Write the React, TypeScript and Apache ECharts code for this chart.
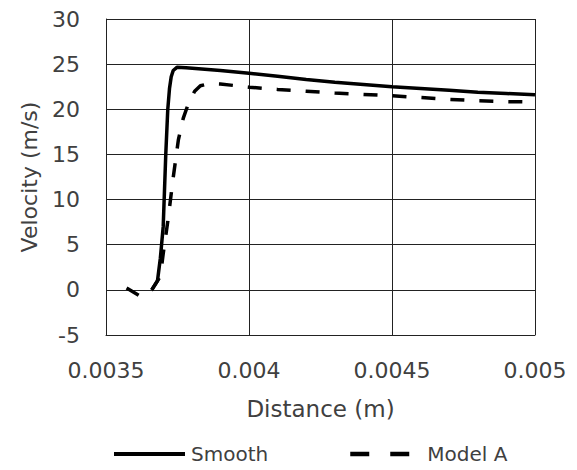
import React, { useEffect, useRef } from "react";
import * as echarts from "echarts";

const smoothX = [0.00366, 0.00368, 0.00369, 0.0037, 0.003709, 0.003716, 0.003722, 0.003728, 0.003735, 0.003748, 0.00378, 0.0039, 0.004, 0.0041, 0.0042, 0.0043, 0.0044, 0.0045, 0.0046, 0.0047, 0.0048, 0.0049, 0.005];
const smoothV = [0, 1, 3.5, 7, 15, 20, 22.3, 23.6, 24.3, 24.65, 24.6, 24.3, 24.0, 23.65, 23.3, 23.0, 22.75, 22.5, 22.3, 22.1, 21.9, 21.75, 21.6];

const modelX = [0.003572, 0.00362, 0.00366, 0.00369, 0.0037, 0.003717, 0.003734, 0.003753, 0.00377, 0.00379, 0.00381, 0.00383, 0.00386, 0.0039, 0.004, 0.0041, 0.0042, 0.0043, 0.0044, 0.0045, 0.0046, 0.0047, 0.0048, 0.0049, 0.005];
const modelV = [0.2, -0.7, 0, 1.5, 4, 7.8, 12.2, 16.6, 19, 20.8, 22.0, 22.6, 22.85, 22.8, 22.45, 22.2, 22.0, 21.8, 21.65, 21.5, 21.3, 21.1, 20.95, 20.85, 20.8];

const seriesNames = ["Smooth", "Model A"];
const xAxisName = "Distance (m)";
const yAxisName = "Velocity (m/s)";

const FONT = "DejaVu Sans";
const TEXT = "#404040";

export default function App() {
  const ref = useRef<HTMLDivElement>(null);
  useEffect(() => {
    if (!ref.current) return;
    const chart = echarts.init(ref.current, null, { renderer: "svg" });
    const pair = (xs: number[], vs: number[]) => xs.map((x, i) => [x, vs[i]]);
    const hiddenSymbol = { color: "rgba(0,0,0,0)", borderWidth: 0, opacity: 0 };
    chart.setOption({
      animation: false,
      backgroundColor: "#fff",
      grid: { left: 106, right: 42, top: 19, bottom: 135 },
      xAxis: {
        type: "value",
        min: 0.0035,
        max: 0.005,
        interval: 0.0005,
        name: xAxisName,
        nameLocation: "middle",
        nameGap: 62,
        nameTextStyle: { fontFamily: FONT, fontSize: 23, color: TEXT },
        axisLine: { show: true, onZero: false, lineStyle: { color: "#222", width: 1 } },
        axisTick: { show: false },
        axisLabel: {
          fontFamily: FONT,
          fontSize: 22,
          color: TEXT,
          margin: 24,
          formatter: (v: number) => String(parseFloat(v.toFixed(4))),
        },
        splitLine: { show: true, lineStyle: { color: "#222", width: 1 } },
      },
      yAxis: {
        type: "value",
        min: -5,
        max: 30,
        interval: 5,
        name: yAxisName,
        nameLocation: "middle",
        nameGap: 66,
        nameTextStyle: { fontFamily: FONT, fontSize: 22, color: TEXT },
        axisLine: { show: true, onZero: false, lineStyle: { color: "#222", width: 1 } },
        axisTick: { show: false },
        axisLabel: { fontFamily: FONT, fontSize: 22, color: TEXT, margin: 26 },
        splitLine: { show: true, lineStyle: { color: "#222", width: 1 } },
      },
      legend: [
        {
          left: 112,
          top: 444,
          padding: 0,
          itemWidth: 71,
          itemHeight: 14,
          itemGap: 0,
          data: [{ name: seriesNames[0], itemStyle: hiddenSymbol, lineStyle: { width: 4 } }],
          textStyle: { fontFamily: FONT, fontSize: 20, color: TEXT, padding: [0, 0, 0, 1] },
        },
        {
          left: 348,
          top: 444,
          padding: 0,
          itemWidth: 60,
          itemHeight: 14,
          itemGap: 0,
          data: [{ name: seriesNames[1], lineStyle: { type: [19, 21], width: 4.5 }, itemStyle: hiddenSymbol }],
          textStyle: { fontFamily: FONT, fontSize: 20, color: TEXT, padding: [0, 0, 0, 12] },
        },
      ],
      series: [
        {
          name: seriesNames[0],
          type: "line",
          data: pair(smoothX, smoothV),
          showSymbol: false,
          symbol: "none",
          lineStyle: { color: "#000", width: 3.5, type: "solid" },
          itemStyle: { color: "#000" },
        },
        {
          name: seriesNames[1],
          type: "line",
          data: pair(modelX, modelV),
          showSymbol: false,
          symbol: "none",
          lineStyle: { color: "#000", width: 3.5, type: [14, 15] },
          itemStyle: { color: "#000" },
        },
      ],
    });
    return () => chart.dispose();
  }, []);
  return (
    <div
      ref={ref}
      style={{ position: "fixed", left: 0, top: 0, width: 577, height: 470 }}
    />
  );
}
